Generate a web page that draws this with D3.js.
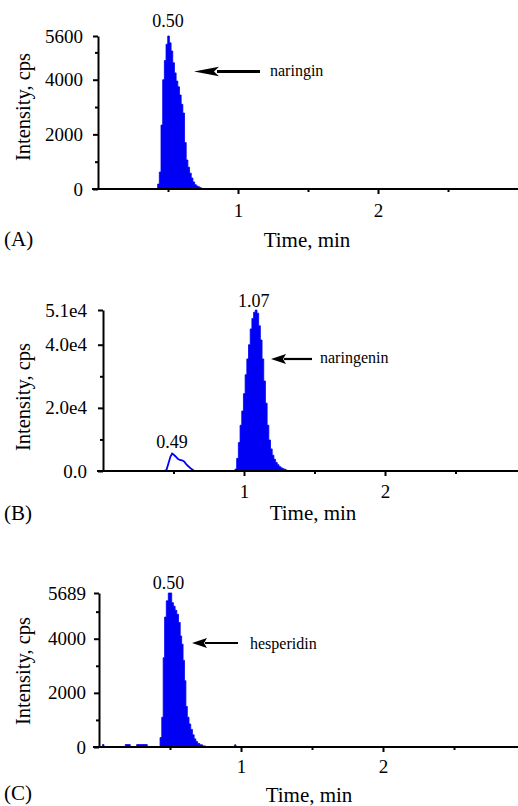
<!DOCTYPE html>
<html>
<head>
<meta charset="utf-8">
<script src="https://cdn.jsdelivr.net/npm/d3@7"></script>
<style>
body{margin:0;background:#fff;}
svg{display:block;}
svg text{font-family:"Liberation Serif","DejaVu Serif",serif;}
</style>
</head>
<body>
<svg id="chart" width="518" height="806" font-family="Liberation Serif, DejaVu Serif, serif"></svg>
<script>
/* chromatogram traces (time in min, intensity in cps) */
var naringinTime = [0.414, 0.426, 0.438, 0.450, 0.462, 0.474, 0.486, 0.498, 0.510, 0.522, 0.534, 0.546, 0.558, 0.570, 0.582, 0.594, 0.606, 0.618, 0.630, 0.642, 0.654, 0.666, 0.678, 0.690, 0.702, 0.714, 0.726, 0.738, 0.750];
var naringinInt  = [0, 180, 620, 2340, 4000, 4700, 5300, 5600, 5350, 5050, 4620, 4250, 3950, 3740, 3440, 3100, 2780, 1700, 1060, 800, 580, 400, 260, 160, 110, 80, 50, 20, 0];

var naringeninTime = [0.924, 0.936, 0.948, 0.960, 0.972, 0.984, 0.996, 1.008, 1.020, 1.032, 1.044, 1.056, 1.068, 1.080, 1.092, 1.104, 1.116, 1.128, 1.140, 1.152, 1.164, 1.176, 1.188, 1.200, 1.212, 1.224, 1.236, 1.248, 1.260, 1.272, 1.284, 1.296, 1.308];
var naringeninInt  = [0, 600, 4000, 9000, 14500, 19000, 24500, 30500, 35500, 40000, 45000, 48300, 50300, 51000, 50000, 46000, 41500, 35500, 28500, 21500, 14500, 9800, 7000, 5000, 3700, 2700, 2000, 1400, 1000, 750, 550, 300, 0];

/* the small unfilled peak in panel B */
var smallPeakTime = [0.43, 0.45, 0.465, 0.478, 0.49, 0.50, 0.515, 0.53, 0.545, 0.56, 0.575, 0.59, 0.605, 0.62, 0.635, 0.65];
var smallPeakInt  = [0, 300, 2500, 4500, 5500, 5200, 4600, 3900, 3500, 3400, 3000, 2200, 1500, 900, 400, 0];

var hesperidinTime = [0.000, 0.025, 0.035, 0.185, 0.220, 0.265, 0.340, 0.430, 0.442, 0.452, 0.462, 0.474, 0.488, 0.500, 0.512, 0.524, 0.536, 0.548, 0.560, 0.572, 0.582, 0.592, 0.602, 0.612, 0.622, 0.634, 0.646, 0.658, 0.670, 0.682, 0.694, 0.710, 0.730, 0.750, 0.955, 0.965];
var hesperidinInt  = [0, 90, 0, 90, 0, 90, 0, 350, 1100, 3300, 4800, 5400, 5689, 5689, 5330, 5200, 5050, 4900, 4600, 4100, 3800, 3200, 2450, 1500, 1100, 850, 650, 450, 300, 200, 130, 80, 40, 0, 80, 0];

/* tick values and labels */
var xTicks = [1, 2];
var xMinorTicks = [0.5, 1.5, 2.5];
var yTicksA = [0, 2000, 4000, 5600];
var yLabelsA = ["0", "2000", "4000", "5600"];
var yTicksB = [0, 20000, 40000, 51000];
var yLabelsB = ["0.0", "2.0e4", "4.0e4", "5.1e4"];
var yTicksC = [0, 2000, 4000, 5689];
var yLabelsC = ["0", "2000", "4000", "5689"];

var BLUE = "#0000f5";
var SERIF = "Liberation Serif, DejaVu Serif, serif";

function zipSeries(ts, vs){
    return ts.map(function(t, i){ return {t: t, v: vs[i]}; });
}

var panels = [
    {left: 98, ppm: 140, base: 189, top: 36, yMax: 5600,
     yTicks: yTicksA, yLabels: yLabelsA, yMinor: [1000, 3000, 5000], yPad: 10, xPad: 14.5,
     filled: zipSeries(naringinTime, naringinInt), outline: null,
     peaks: [{t: 0.50, v: 5600, label: "0.50", dy: 9}],
     arrow: {x1: 194, x2: 260, y: 71.5, head: 25, half: 4.7, w: 2.8},
     name: "naringin", nameX: 270, nameDy: 4.5,
     tag: "(A)", tagY: 246, titleX: 307, titleY: 247, yTitleY: 107},
    {left: 103, ppm: 141, base: 471, top: 310, yMax: 51000,
     yTicks: yTicksB, yLabels: yLabelsB, yMinor: [10000, 30000], yPad: 11, xPad: 13.5,
     filled: zipSeries(naringeninTime, naringeninInt), outline: zipSeries(smallPeakTime, smallPeakInt),
     peaks: [{t: 1.07, v: 51000, label: "1.07", dy: 3}, {t: 0.49, v: 5500, label: "0.49", dy: 6}],
     arrow: {x1: 271, x2: 312, y: 359, head: 15, half: 5, w: 2.2},
     name: "naringenin", nameX: 320, nameDy: 4,
     tag: "(B)", tagY: 520, titleX: 313, titleY: 520, yTitleY: 397},
    {left: 99, ppm: 142, base: 747, top: 593, yMax: 5689,
     yTicks: yTicksC, yLabels: yLabelsC, yMinor: [1000, 3000, 5000], yPad: 8, xPad: 12.5,
     filled: zipSeries(hesperidinTime, hesperidinInt), outline: null,
     peaks: [{t: 0.49, v: 5689, label: "0.50", dy: 4}],
     arrow: {x1: 192, x2: 238, y: 643, head: 15, half: 5, w: 2.2},
     name: "hesperidin", nameX: 250, nameDy: 6,
     tag: "(C)", tagY: 800, titleX: 309, titleY: 802, yTitleY: 671}
];

var svg = d3.select("#chart");

function styleAxis(sel, size){
    sel.attr("font-family", SERIF).attr("font-size", size);
    sel.selectAll("path,line").attr("stroke", "#000").attr("stroke-width", 2);
    sel.selectAll("text").attr("fill", "#000").attr("font-family", SERIF);
}

function drawPanel(p){
    var g = svg.append("g").attr("font-family", SERIF);
    var x = d3.scaleLinear().domain([0, 3]).range([p.left, p.left + 3 * p.ppm]);
    var y = d3.scaleLinear().domain([0, p.yMax]).range([p.base, p.top]);

    var area = d3.area()
        .x(function(d){ return x(d.t); })
        .y0(y(0))
        .y1(function(d){ return y(d.v); })
        .curve(d3.curveStepAfter);
    g.append("path")
        .datum(p.filled)
        .attr("d", area)
        .attr("fill", BLUE)
        .attr("stroke", BLUE)
        .attr("stroke-width", 0.8);

    if (p.outline){
        var line = d3.line()
            .x(function(d){ return x(d.t); })
            .y(function(d){ return y(d.v); });
        g.append("path")
            .datum(p.outline)
            .attr("d", line)
            .attr("fill", "none")
            .attr("stroke", BLUE)
            .attr("stroke-width", 1.8);
    }

    /* x axis: line runs a bit left of the y axis and out to the edge */
    g.append("line")
        .attr("x1", p.left - 6).attr("x2", 518)
        .attr("y1", p.base).attr("y2", p.base)
        .attr("stroke", "#000").attr("stroke-width", 2);
    var xa = g.append("g")
        .attr("transform", "translate(0," + p.base + ")")
        .call(d3.axisBottom(x).tickValues(xTicks).tickFormat(d3.format("d"))
              .tickSize(5).tickPadding(p.xPad - 5));
    xa.select(".domain").remove();
    styleAxis(xa, 19);
    var xm = g.append("g")
        .attr("transform", "translate(0," + p.base + ")")
        .call(d3.axisBottom(x).tickValues(xMinorTicks).tickFormat("").tickSize(3));
    xm.select(".domain").remove();
    styleAxis(xm, 19);

    /* y axis */
    var ya = g.append("g")
        .attr("transform", "translate(" + p.left + ",0)")
        .call(d3.axisLeft(y).tickValues(p.yTicks)
              .tickFormat(function(d, i){ return p.yLabels[i]; })
              .tickSize(5).tickSizeOuter(0).tickPadding(p.yPad));
    styleAxis(ya, 19);
    var ym = g.append("g")
        .attr("transform", "translate(" + p.left + ",0)")
        .call(d3.axisLeft(y).tickValues(p.yMinor).tickFormat("").tickSize(3));
    ym.select(".domain").remove();
    styleAxis(ym, 19);

    /* peak retention time labels */
    p.peaks.forEach(function(pk){
        g.append("text")
            .attr("x", x(pk.t))
            .attr("y", y(pk.v) - pk.dy)
            .attr("text-anchor", "middle")
            .attr("font-size", 18)
            .text(pk.label);
    });

    /* arrow + compound name */
    var a = p.arrow;
    g.append("line")
        .attr("x1", a.x1 + a.head - 2).attr("x2", a.x2)
        .attr("y1", a.y).attr("y2", a.y)
        .attr("stroke", "#000").attr("stroke-width", a.w);
    g.append("path")
        .attr("d", "M" + a.x1 + "," + a.y +
              "L" + (a.x1 + a.head) + "," + (a.y - a.half) +
              "L" + (a.x1 + a.head * 0.8) + "," + a.y +
              "L" + (a.x1 + a.head) + "," + (a.y + a.half) + "Z")
        .attr("fill", "#000");
    g.append("text")
        .attr("x", p.nameX)
        .attr("y", a.y + p.nameDy)
        .attr("font-size", 16)
        .text(p.name);

    /* titles */
    g.append("text")
        .attr("transform", "translate(30," + p.yTitleY + ") rotate(-90)")
        .attr("text-anchor", "middle")
        .attr("font-size", 20.5)
        .text("Intensity, cps");
    g.append("text")
        .attr("x", p.titleX).attr("y", p.titleY)
        .attr("text-anchor", "middle")
        .attr("font-size", 21)
        .text("Time, min");
    g.append("text")
        .attr("x", 4).attr("y", p.tagY)
        .attr("font-size", 21)
        .text(p.tag);
}

panels.forEach(drawPanel);
</script>
</body>
</html>
